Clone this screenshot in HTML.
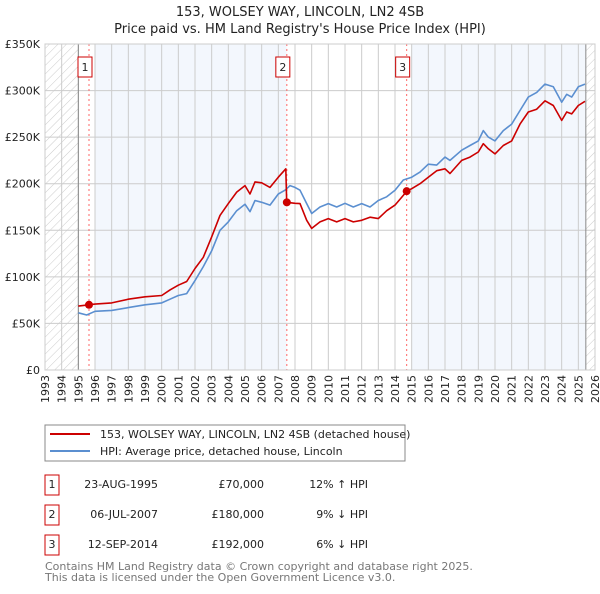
<!DOCTYPE html>
<html><head><meta charset="utf-8"><style>
body{margin:0;background:#fff;font-family:"DejaVu Sans","Liberation Sans",sans-serif}
svg text{font-family:"DejaVu Sans","Liberation Sans",sans-serif}
</style></head><body>
<svg id="chart" width="600" height="590" viewBox="0 0 600 590" xmlns="http://www.w3.org/2000/svg">
<defs><pattern id="hatch" width="6" height="6" patternUnits="userSpaceOnUse" patternTransform="rotate(45)"><line x1="0" y1="0" x2="0" y2="6" stroke="#ccc" stroke-width="1"/></pattern></defs>
<text x="300" y="16" text-anchor="middle" font-size="13" fill="#222">153, WOLSEY WAY, LINCOLN, LN2 4SB</text>
<text x="300" y="33" text-anchor="middle" font-size="13" fill="#222">Price paid vs. HM Land Registry's House Price Index (HPI)</text>
<g id="plot"></g>
<g>
<rect x="45" y="425" width="360" height="36" fill="#fff" stroke="#888"/>
<line x1="50" y1="434" x2="90" y2="434" stroke="#cc0000" stroke-width="2"/>
<text x="100" y="438" font-size="11" fill="#222">153, WOLSEY WAY, LINCOLN, LN2 4SB (detached house)</text>
<line x1="50" y1="451" x2="90" y2="451" stroke="#5b8fd0" stroke-width="2"/>
<text x="100" y="455" font-size="11" fill="#222">HPI: Average price, detached house, Lincoln</text>
</g>
<g id="table" font-size="11" fill="#222"></g>
<text x="45" y="570" font-size="11" fill="#777">Contains HM Land Registry data © Crown copyright and database right 2025.</text>
<text x="45" y="581" font-size="11" fill="#777">This data is licensed under the Open Government Licence v3.0.</text>
</svg>
<script>
const hpiYears=[1995.0,1995.5,1996,1997,1998,1999,2000,2000.5,2001,2001.5,2002,2002.5,2003,2003.5,2004,2004.5,2005,2005.3,2005.6,2006,2006.5,2007,2007.4,2007.7,2008,2008.3,2008.7,2009,2009.5,2010,2010.5,2011,2011.5,2012,2012.5,2013,2013.5,2014,2014.5,2015,2015.5,2016,2016.5,2017,2017.3,2018,2018.5,2019,2019.3,2019.6,2020,2020.5,2021,2021.5,2022,2022.5,2023,2023.5,2024,2024.3,2024.6,2025,2025.4];
const hpiValues=[61.4,59,63,64,67,70,72,76,80,82,96,111,128,150,159,171,178,170,182,180,177,189,193,198,196,193,178.6,168,175,178.6,175,179,175,178.6,175,182,186,193,204,207,212.5,221,220,228.6,225,236,241,246,257,250,246,257,264,278.6,293,298,307,304,287.5,296,293,304,307];
const priceYears=[1995.0,1995.64,1996,1997,1998,1999,2000,2000.5,2001,2001.5,2002,2002.5,2003,2003.5,2004,2004.5,2005,2005.3,2005.6,2006,2006.5,2007,2007.45,2007.5,2008,2008.3,2008.7,2009,2009.5,2010,2010.5,2011,2011.5,2012,2012.5,2013,2013.5,2014,2014.5,2014.7,2015,2015.5,2016,2016.5,2017,2017.3,2018,2018.5,2019,2019.3,2019.6,2020,2020.5,2021,2021.5,2022,2022.5,2023,2023.5,2024,2024.3,2024.6,2025,2025.4];
const priceValues=[68.6,70,70.7,72,76,78.6,80,86,91,95,109,121,143,166,178.6,191,198,189,202,201,196,207,216,180,179,178.6,160.7,152,159,162.5,159,162.5,159,160.7,164,162.5,171,177,187.5,192,194.6,200,207,214,216,211,225,228.6,234,243,237.5,232,241,246,264,277,280,289,284,268,277,275,284,288.5];
const saleYears=[1995.64,2007.51,2014.70];
const saleValues=[70,180,192];
const saleLabels=["1","2","3"];
const saleDates=["23-AUG-1995","06-JUL-2007","12-SEP-2014"];
const salePrices=["£70,000","£180,000","£192,000"];
const saleDiffs=["12% ↑ HPI","9% ↓ HPI","6% ↓ HPI"];
const yTicks=[0,50,100,150,200,250,300,350];
const yTickLabels=["£0","£50K","£100K","£150K","£200K","£250K","£300K","£350K"];
const xTicks=[1993,1994,1995,1996,1997,1998,1999,2000,2001,2002,2003,2004,2005,2006,2007,2008,2009,2010,2011,2012,2013,2014,2015,2016,2017,2018,2019,2020,2021,2022,2023,2024,2025,2026];

const X0=45,X1=595,Y0=370,Y1=44;
const xs=y=>X0+(y-1993)/(2026-1993)*(X1-X0);
const ys=v=>Y0-v/350*(Y0-Y1);
const NS="http://www.w3.org/2000/svg";
const plot=document.getElementById('plot');
function mk(tag,attrs,parent){const e=document.createElementNS(NS,tag);for(const k in attrs)e.setAttribute(k,attrs[k]);(parent||plot).appendChild(e);return e;}
let e;
e=mk('rect',{x:X0,y:Y1,width:X1-X0,height:Y0-Y1,fill:'#fff'});


e=mk('rect',{x:xs(1996),y:Y1,width:xs(2007.5)-xs(1996),height:Y0-Y1,fill:'#eef3fc',opacity:0.7});


e=mk('rect',{x:xs(2015),y:Y1,width:xs(2025.45)-xs(2015),height:Y0-Y1,fill:'#eef3fc',opacity:0.7});


e=mk('rect',{x:X0,y:Y1,width:xs(1995)-X0,height:Y0-Y1,fill:'url(#hatch)'});


e=mk('rect',{x:xs(2025.45),y:Y1,width:X1-xs(2025.45),height:Y0-Y1,fill:'url(#hatch)'});


yTicks.forEach((t,i)=>{
 e=mk('line',{x1:X0,x2:X1,y1:ys(t),y2:ys(t),stroke:'#ccc','stroke-width':1});
 
 
 e=mk('text',{x:40,y:ys(t)+4,'text-anchor':'end','font-size':11,fill:'#222'});e.textContent=yTickLabels[i];
 
 
});
xTicks.forEach(t=>{
 e=mk('line',{x1:xs(t),x2:xs(t),y1:Y1,y2:Y0,stroke:'#ccc','stroke-width':1});
 
 
 e=mk('text',{x:0,y:0,'text-anchor':'end','font-size':11,fill:'#222',transform:`translate(${xs(t)+4},375) rotate(-90)`});e.textContent=t;
 
 
});
e=mk('line',{x1:xs(1995),x2:xs(1995),y1:Y1,y2:Y0,stroke:'#888'});


e=mk('line',{x1:xs(2025.45),x2:xs(2025.45),y1:Y1,y2:Y0,stroke:'#888'});


saleYears.forEach((s,i)=>{
 e=mk('line',{x1:xs(s),x2:xs(s),y1:Y1,y2:Y0,stroke:'#ff6666','stroke-dasharray':'2,3'});
 
 
});
function path(xa,va,col){
 const d=xa.map((x,i)=>(i?'L':'M')+xs(x).toFixed(1)+','+ys(va[i]).toFixed(1)).join('');
 return mk('path',{d:d,fill:'none',stroke:col,'stroke-width':1.6,'stroke-linejoin':'round'});
}
e=path(hpiYears,hpiValues,'#5b8fd0');


e=path(priceYears,priceValues,'#cc0000');


saleYears.forEach((s,i)=>{
 e=mk('circle',{cx:xs(s),cy:ys(saleValues[i]),r:4,fill:'#cc0000'});
 
 
 const cx=xs(s)-4;
 e=mk('rect',{x:cx-7,y:57,width:14,height:20,fill:'#fff',stroke:'#cc0000'});
 
 
 e=mk('text',{x:cx,y:71,'text-anchor':'middle','font-size':11,fill:'#222'});e.textContent=saleLabels[i];
 
 
});
e=mk('rect',{x:X0,y:Y1,width:X1-X0,height:Y0-Y1,fill:'none',stroke:'#ccc'});


const tb=document.getElementById('table');
saleLabels.forEach((l,i)=>{
 const cy=485+i*30;
 e=mk('rect',{x:45,y:cy-10,width:14,height:20,fill:'#fff',stroke:'#cc0000'},tb);
 
 
 e=mk('text',{x:52,y:cy+3,'text-anchor':'middle'},tb);e.textContent=l;
 
 
 e=mk('text',{x:158,y:cy+3,'text-anchor':'end'},tb);e.textContent=saleDates[i];
 
 
 e=mk('text',{x:264,y:cy+3,'text-anchor':'end'},tb);e.textContent=salePrices[i];
 
 
 e=mk('text',{x:368,y:cy+3,'text-anchor':'end'},tb);e.textContent=saleDiffs[i];
 
 
});
</script>
</body></html>
